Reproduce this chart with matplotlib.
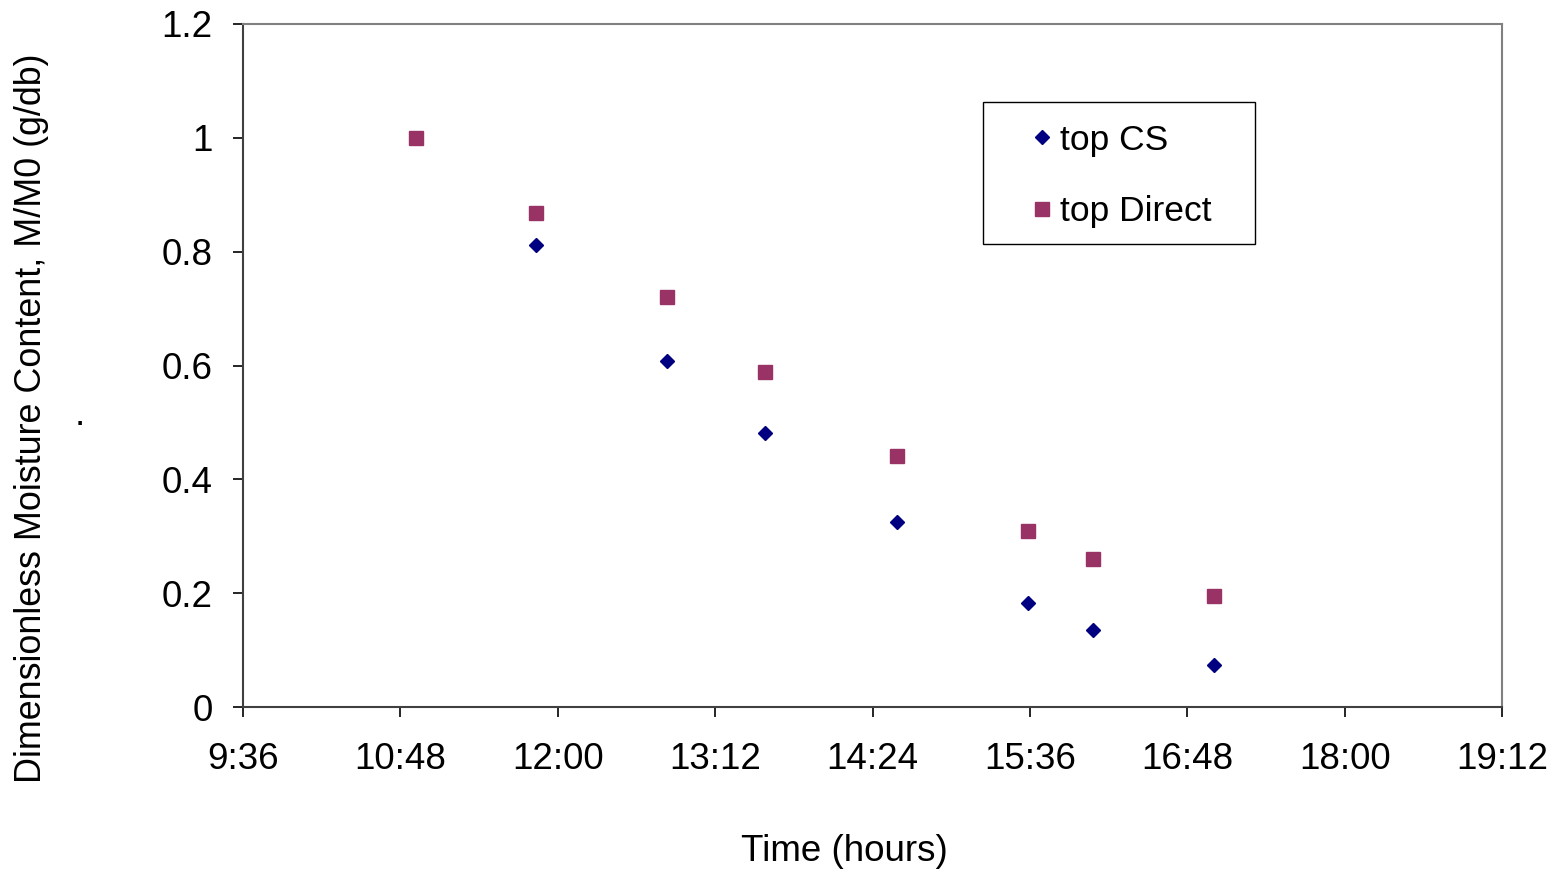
import matplotlib.pyplot as plt
from matplotlib.patches import Rectangle
from matplotlib.ticker import FuncFormatter, FixedLocator

# readings (clock time, M/M0)
times_direct = ["10:55", "11:50", "12:50", "13:35", "14:35", "15:35", "16:05", "17:00"]
top_direct = [1.0, 0.868, 0.720, 0.589, 0.441, 0.309, 0.260, 0.195]

times_cs = ["11:50", "12:50", "13:35", "14:35", "15:35", "16:05", "17:00"]
top_cs = [0.812, 0.608, 0.481, 0.325, 0.183, 0.135, 0.074]

x_ticks = ["9:36", "10:48", "12:00", "13:12", "14:24", "15:36", "16:48", "18:00", "19:12"]
y_ticks = [0, 0.2, 0.4, 0.6, 0.8, 1, 1.2]


def to_hours(s):
    h, m = s.split(":")
    return int(h) + int(m) / 60


def fmt_time(v, pos):
    total = int(round(v * 60))
    return "%d:%02d" % (total // 60, total % 60)


def main():
    plt.rcParams['font.family'] = ['Liberation Sans', 'DejaVu Sans']
    fs = 26.5
    fig = plt.figure(figsize=(15.63, 8.69), dpi=100)
    ax = fig.add_axes([0.1555, 0.1864, 0.8055, 0.786])

    ax.plot([to_hours(t) for t in times_cs], top_cs, linestyle='none', marker='D',
            markersize=7, color='#000080', label='top CS')
    ax.plot([to_hours(t) for t in times_direct], top_direct, linestyle='none', marker='s',
            markersize=10.5, color='#993366', label='top Direct')

    xt = [to_hours(t) for t in x_ticks]
    ax.set_xlim(xt[0], xt[-1])
    ax.set_ylim(0, 1.2)
    ax.xaxis.set_major_locator(FixedLocator(xt))
    ax.xaxis.set_major_formatter(FuncFormatter(fmt_time))
    ax.set_yticks(y_ticks)
    ax.set_yticklabels(["0", "0.2", "0.4", "0.6", "0.8", "1", "1.2"])

    ax.tick_params(axis='both', labelsize=fs, direction='out', length=7, width=1.2, colors='black')
    ax.tick_params(axis='x', pad=18)
    ax.tick_params(axis='y', pad=15)
    for side in ['top', 'right']:
        ax.spines[side].set_color('#808080')
        ax.spines[side].set_linewidth(1.5)
    for side in ['left', 'bottom']:
        ax.spines[side].set_color('#404040')
        ax.spines[side].set_linewidth(1.5)

    ax.set_xlabel("Time (hours)", fontsize=fs)
    ax.xaxis.set_label_coords(0.478, -0.186)
    ax.set_ylabel("Dimensionless Moisture Content, M/M0 (g/db)", fontsize=25.8)
    ax.yaxis.set_label_coords(-0.154, 0.423)

    fig.text(80 / 1563, 1 - 415 / 869, ".", fontsize=fs, ha='center', va='center')

    # legend entries without frame, box drawn separately (wider side padding than matplotlib gives)
    ax.legend(loc='upper left', bbox_to_anchor=(0.6235, 0.854), fontsize=25.5,
              frameon=False, handletextpad=0.1, handlelength=0.8, labelspacing=1.08,
              borderpad=0, borderaxespad=0)
    ax.add_patch(Rectangle((0.5878, 0.678), 0.216, 0.208, transform=ax.transAxes,
                           fill=False, edgecolor='black', linewidth=1.0, zorder=5))

    fig.savefig("out.png", dpi=100)
    plt.close(fig)


if __name__ == "__main__":
    main()
